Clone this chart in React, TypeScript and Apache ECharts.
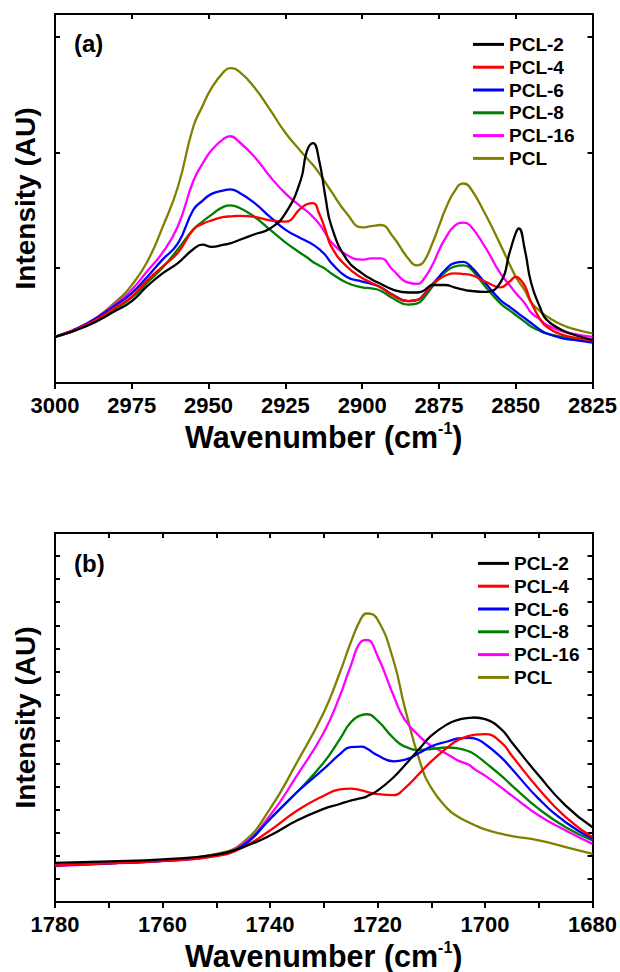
import React, { useEffect, useRef } from "react";
import * as echarts from "echarts";

const FONT = "Liberation Sans, Arial, sans-serif";

const seriesNames = ["PCL-2", "PCL-4", "PCL-6", "PCL-8", "PCL-16", "PCL"];
const seriesColors = ["#000000", "#ff0000", "#0000ff", "#008000", "#ff00ff", "#808000"];

// Panel (a): 3000-2825 cm-1
const wnA = [3000, 2990, 2980, 2975, 2970, 2965, 2960, 2955, 2952, 2949, 2945, 2943, 2940, 2935, 2930, 2925, 2920, 2918, 2916, 2914, 2912, 2910, 2905, 2900, 2897, 2894, 2890, 2885, 2882, 2880, 2877, 2875, 2873, 2870, 2867, 2865, 2860, 2855, 2852, 2850, 2849, 2847, 2845, 2842, 2840, 2835, 2830, 2825];
const pcl2A = [0.40, 0.49, 0.63, 0.71, 0.84, 0.95, 1.04, 1.16, 1.20, 1.18, 1.20, 1.21, 1.24, 1.29, 1.34, 1.47, 1.76, 2.01, 2.08, 1.93, 1.62, 1.36, 1.07, 0.95, 0.90, 0.86, 0.81, 0.785, 0.785, 0.80, 0.85, 0.85, 0.85, 0.83, 0.81, 0.80, 0.79, 0.87, 1.13, 1.30, 1.34, 1.15, 0.87, 0.65, 0.55, 0.46, 0.41, 0.375];
const pcl4A = [0.40, 0.50, 0.66, 0.75, 0.89, 1.01, 1.13, 1.33, 1.38, 1.41, 1.44, 1.445, 1.45, 1.44, 1.41, 1.40, 1.515, 1.55, 1.56, 1.47, 1.33, 1.18, 1.01, 0.91, 0.87, 0.83, 0.76, 0.71, 0.72, 0.76, 0.86, 0.90, 0.93, 0.95, 0.945, 0.94, 0.88, 0.83, 0.88, 0.92, 0.91, 0.84, 0.70, 0.55, 0.49, 0.42, 0.39, 0.37];
const pcl6A = [0.40, 0.51, 0.68, 0.78, 0.92, 1.07, 1.21, 1.50, 1.58, 1.64, 1.67, 1.68, 1.65, 1.56, 1.44, 1.33, 1.255, 1.23, 1.20, 1.16, 1.11, 1.04, 0.92, 0.88, 0.86, 0.83, 0.765, 0.71, 0.72, 0.765, 0.86, 0.92, 0.98, 1.04, 1.05, 1.02, 0.87, 0.72, 0.66, 0.62, 0.60, 0.56, 0.52, 0.46, 0.43, 0.39, 0.37, 0.35];
const pcl8A = [0.40, 0.50, 0.65, 0.74, 0.87, 1.00, 1.16, 1.33, 1.40, 1.46, 1.53, 1.54, 1.52, 1.44, 1.33, 1.22, 1.125, 1.09, 1.05, 1.02, 0.99, 0.95, 0.87, 0.83, 0.82, 0.80, 0.735, 0.68, 0.69, 0.735, 0.84, 0.91, 0.96, 1.01, 1.02, 1.00, 0.84, 0.69, 0.63, 0.59, 0.57, 0.53, 0.49, 0.45, 0.43, 0.40, 0.375, 0.36];
const pcl16A = [0.40, 0.51, 0.69, 0.81, 0.97, 1.13, 1.36, 1.75, 1.90, 2.02, 2.12, 2.14, 2.09, 1.96, 1.79, 1.645, 1.53, 1.49, 1.44, 1.38, 1.30, 1.22, 1.11, 1.07, 1.08, 1.08, 0.98, 0.87, 0.86, 0.90, 1.03, 1.15, 1.25, 1.36, 1.39, 1.37, 1.18, 0.95, 0.85, 0.78, 0.75, 0.69, 0.61, 0.55, 0.505, 0.45, 0.42, 0.40];
const pclA = [0.40, 0.505, 0.71, 0.85, 1.05, 1.35, 1.70, 2.22, 2.40, 2.56, 2.70, 2.73, 2.70, 2.56, 2.37, 2.17, 2.01, 1.95, 1.89, 1.82, 1.74, 1.66, 1.47, 1.35, 1.36, 1.37, 1.27, 1.08, 1.02, 1.05, 1.22, 1.36, 1.50, 1.66, 1.73, 1.70, 1.47, 1.20, 1.03, 0.92, 0.88, 0.80, 0.70, 0.62, 0.58, 0.505, 0.46, 0.43];

// Panel (b): 1780-1680 cm-1
const wnB = [1780, 1770, 1760, 1750, 1745, 1740, 1735, 1730, 1727, 1725, 1723, 1722, 1720, 1717, 1715, 1712, 1710, 1707, 1705, 1703, 1702, 1700, 1697, 1695, 1690, 1685, 1680];
const pcl2B = [1.70, 1.76, 1.85, 2.05, 2.38, 2.88, 3.53, 4.04, 4.25, 4.40, 4.50, 4.58, 4.83, 5.41, 5.91, 6.70, 7.21, 7.71, 7.90, 7.98, 8.00, 7.93, 7.50, 6.92, 5.48, 4.18, 3.24];
const pcl4B = [1.59, 1.68, 1.78, 1.99, 2.38, 3.10, 3.96, 4.61, 4.88, 4.92, 4.84, 4.78, 4.68, 4.63, 4.92, 5.62, 6.10, 6.70, 7.03, 7.20, 7.25, 7.28, 6.92, 6.34, 4.90, 3.68, 2.81];
const pcl6B = [1.59, 1.68, 1.78, 2.02, 2.45, 3.60, 4.76, 5.77, 6.41, 6.72, 6.74, 6.66, 6.36, 6.10, 6.16, 6.49, 6.75, 6.96, 7.09, 7.12, 7.10, 6.85, 6.27, 5.77, 4.47, 3.46, 2.74];
const pcl8B = [1.59, 1.68, 1.78, 2.02, 2.45, 3.60, 4.76, 6.05, 7.06, 7.78, 8.10, 8.14, 7.86, 7.10, 6.75, 6.60, 6.63, 6.70, 6.66, 6.53, 6.41, 6.05, 5.48, 5.05, 4.04, 3.24, 2.67];
const pcl16B = [1.56, 1.66, 1.77, 2.02, 2.52, 3.75, 5.48, 7.35, 8.94, 10.23, 11.30, 11.36, 10.67, 8.94, 7.93, 7.14, 6.77, 6.41, 6.13, 5.95, 5.77, 5.48, 4.97, 4.61, 3.75, 3.10, 2.52];
const pclB = [1.59, 1.70, 1.80, 2.09, 2.59, 4.04, 6.05, 8.22, 9.95, 11.24, 12.32, 12.51, 12.25, 10.45, 8.50, 6.00, 4.95, 4.05, 3.70, 3.45, 3.34, 3.15, 2.96, 2.86, 2.67, 2.38, 2.09];

const valuesA = [pcl2A, pcl4A, pcl6A, pcl8A, pcl16A, pclA];
const valuesB = [pcl2B, pcl4B, pcl6B, pcl8B, pcl16B, pclB];

const xTitle = "{t|Wavenumber (cm}{s|-1}{t|)}";
const yTitle = "Intensity (AU)";

function xAxes(grid: number, min: number, max: number, interval: number, minor: boolean) {
  const common = {
    gridIndex: grid,
    type: "value" as const,
    min,
    max,
    interval,
    inverse: true,
    splitLine: { show: false },
    axisLine: { show: true, onZero: false, lineStyle: { color: "#000", width: 2 } },
    minorTick: { show: minor, splitNumber: 2, length: 6, lineStyle: { color: "#000", width: 2 } },
  };
  return [
    {
      ...common,
      position: "bottom",
      axisTick: { show: true, inside: false, length: 6, lineStyle: { color: "#000", width: 2 } },
      axisLabel: {
        show: true,
        fontSize: 22,
        fontWeight: "bold",
        color: "#000",
        fontFamily: FONT,
        margin: 11,
        showMinLabel: true,
        showMaxLabel: true,
        formatter: (v: number) => String(v),
      },
      name: xTitle,
      nameLocation: "middle",
      nameGap: 37,
      nameTextStyle: {
        rich: {
          t: { fontSize: 30.5, fontWeight: "bold", color: "#000", fontFamily: FONT, lineHeight: 33 },
          s: { fontSize: 16, fontWeight: "bold", color: "#000", fontFamily: FONT, lineHeight: 14, verticalAlign: "top" },
        },
      },
    },
    {
      ...common,
      position: "top",
      axisTick: { show: true, inside: true, length: 5, lineStyle: { color: "#000", width: 2 } },
      minorTick: { show: minor, splitNumber: 2, length: 5, lineStyle: { color: "#000", width: 2 } },
      axisLabel: { show: false },
    },
  ];
}

function yAxes(grid: number, max: number) {
  const common = {
    gridIndex: grid,
    type: "value" as const,
    min: 0,
    max,
    interval: 1,
    splitLine: { show: false },
    axisLabel: { show: false },
    axisLine: { show: true, onZero: false, lineStyle: { color: "#000", width: 2 } },
    axisTick: { show: true, inside: true, length: 5, lineStyle: { color: "#000", width: 2 } },
  };
  return [
    {
      ...common,
      position: "left",
      name: yTitle,
      nameLocation: "middle",
      nameRotate: 90,
      nameGap: 16,
      nameTextStyle: { fontSize: 28, fontWeight: "bold", color: "#000", fontFamily: FONT },
    },
    { ...common, position: "right" },
  ];
}

function buildSeries(xs: number[], vals: number[][], axisIdx: number) {
  return vals.map((arr, i) => ({
    type: "line",
    name: seriesNames[i],
    xAxisIndex: axisIdx,
    yAxisIndex: axisIdx,
    data: xs.map((x, j) => [x, arr[j]]),
    showSymbol: false,
    smooth: 0.5,
    lineStyle: { color: seriesColors[i], width: 2.3 },
    itemStyle: { color: seriesColors[i] },
    z: 10 - i,
  }));
}

function legend(left: number, top: number) {
  return {
    orient: "vertical",
    left,
    top,
    icon: "rect",
    itemWidth: 31,
    itemHeight: 3,
    itemGap: 0,
    selectedMode: false,
    textStyle: { fontSize: 19, fontWeight: "bold", color: "#000", fontFamily: FONT, lineHeight: 22.8 },
    data: seriesNames,
  };
}

export default function App() {
  const ref = useRef<HTMLDivElement>(null);
  useEffect(() => {
    if (!ref.current) return;
    const chart = echarts.init(ref.current, null, { renderer: "svg" });
    const option = {
      animation: false,
      backgroundColor: "#ffffff",
      color: seriesColors,
      grid: [
        { left: 55, right: 27, top: 14, height: 369 },
        { left: 55, right: 27, top: 533, height: 370 },
      ],
      xAxis: [...xAxes(0, 2825, 3000, 25, false), ...xAxes(1, 1680, 1780, 20, true)],
      yAxis: [...yAxes(0, 3.2), ...yAxes(1, 16)],
      legend: [legend(468, 28), legend(473, 547)],
      graphic: [
        { type: "text", x: 74, y: 43, style: { text: "(a)", font: `bold 24px ${FONT}`, fill: "#000", verticalAlign: "middle" } },
        { type: "text", x: 74, y: 563, style: { text: "(b)", font: `bold 24px ${FONT}`, fill: "#000", verticalAlign: "middle" } },
      ],
      series: [...buildSeries(wnA, valuesA, 0), ...buildSeries(wnB, valuesB, 2)],
    };
    chart.setOption(option as any);
    return () => chart.dispose();
  }, []);
  return (
    <div
      ref={ref}
      style={{ position: "absolute", left: 0, top: 0, width: 620, height: 972, background: "#fff" }}
    />
  );
}
